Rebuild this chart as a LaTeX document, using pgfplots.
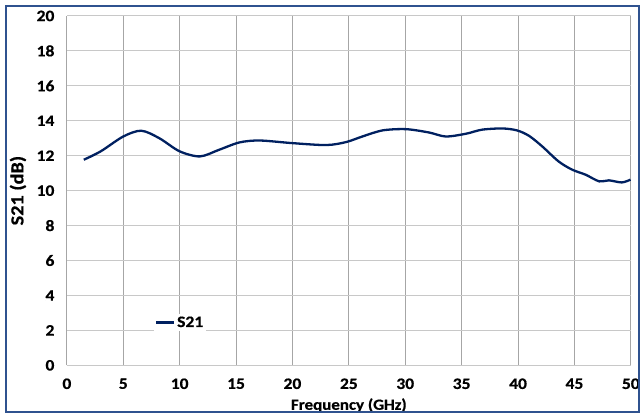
\documentclass[border=0pt]{standalone}
\usepackage{fontspec}
\setmainfont{Carlito}[FakeStretch=1.1, BoldFont={Carlito Bold}, BoldFeatures={FakeStretch=1.1, FakeBold=0.6}]
\usepackage{pgfplots}
\pgfplotsset{compat=1.18}
\definecolor{curve}{RGB}{0,32,96}
\definecolor{frame}{RGB}{47,82,143}
\definecolor{hgrid}{RGB}{200,200,200}
\definecolor{vgrid}{RGB}{166,166,166}
\begin{document}
\begin{tikzpicture}[x=1bp,y=1bp]
\begin{axis}[
  at={(0bp,0bp)}, anchor=origin,
  x=11.3bp, y=17.5bp,
  xmin=0, xmax=50, ymin=0, ymax=20,
  xtick={0,5,...,50}, ytick={0,2,...,20},
  axis line style={draw=none},
  major tick length=0pt,
  xmajorgrids, ymajorgrids,
  x grid style={vgrid, line width=0.8bp},
  y grid style={hgrid, line width=1bp},
  /pgf/number format/assume math mode=true,
  ticklabel style={font=\bfseries\fontsize{16}{18}\selectfont},
  xticklabel style={yshift=-12bp, inner ysep=1bp},
  yticklabel style={xshift=-9bp},
  xlabel={Frequency (GHz)},
  ylabel={S21 (dB)},
  xlabel style={font=\bfseries\fontsize{15.5}{18}\selectfont, inner ysep=1bp,
    at={(axis description cs:0.5,0)}, anchor=center, yshift=-40bp},
  ylabel style={font=\bfseries\fontsize{18.5}{21}\selectfont,
    at={(axis description cs:0,0.5)}, anchor=center, rotate=0, yshift=49bp},
  legend style={at={(axis cs:7.7,2.45)}, anchor=west, draw=none, fill=white,
    font=\bfseries\fontsize{16}{18}\selectfont, inner sep=1bp,
    legend cell align=left},
  legend image code/.code={\draw[#1] (0bp,0bp) -- (18bp,0bp);},
]
\addplot[curve, line width=2.3bp, smooth, tension=0.5] coordinates {
  (1.5,11.77) (3.0,12.25) (5.0,13.1) (6.6,13.43) (8.2,13.0)
  (10.0,12.25) (11.8,11.96) (13.5,12.34) (15.3,12.76) (17.1,12.87)
  (20.0,12.72) (23.0,12.61) (24.75,12.78) (26.2,13.1) (28.0,13.45)
  (30.06,13.52) (32.1,13.33) (33.6,13.1) (35.4,13.26) (36.8,13.49)
  (38.6,13.56) (39.9,13.45) (40.97,13.14) (42.15,12.53) (43.6,11.67)
  (44.8,11.2) (46.0,10.91) (47.2,10.53) (48.05,10.59) (49.2,10.47)
  (49.97,10.63)
};
\addlegendentry{S21}
\end{axis}
\draw[frame, line width=2bp] (-61bp,-47bp) rectangle (573bp,360bp);
\useasboundingbox (-67bp,-53bp) rectangle (576bp,366bp);
\end{tikzpicture}
\end{document}
